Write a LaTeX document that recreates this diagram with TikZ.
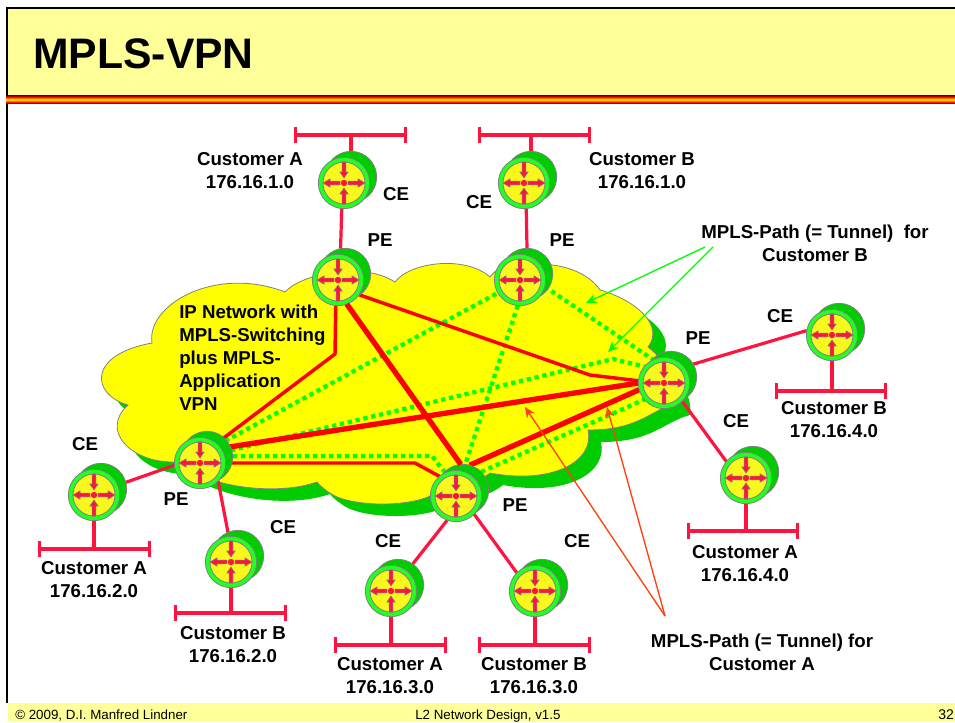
\documentclass[tikz,border=0pt]{standalone}
\usepackage{fontspec}
\setmainfont{Liberation Sans}
\usetikzlibrary{arrows.meta,backgrounds}

\definecolor{paleyellow}{HTML}{FFFF99}
\definecolor{cloudyellow}{HTML}{FFFF00}
\definecolor{cloudgreen}{HTML}{00CC00}
\definecolor{ringgreen}{HTML}{22FF22}
\definecolor{discyellow}{HTML}{F8F81C}
\definecolor{lanred}{HTML}{FF1440}
\definecolor{orangered}{HTML}{FF4010}
\definecolor{banddark}{HTML}{800000}

\pgfdeclareverticalshading{bandshade}{100bp}{color(0bp)=(banddark);color(25bp)=(banddark);color(33bp)=(red);color(42bp)=(orange);color(50bp)=(yellow);color(58bp)=(orange);color(67bp)=(red);color(75bp)=(banddark);color(100bp)=(banddark)}

\tikzset{
    routerback/.style={circle,fill=cloudgreen,draw=gray,line width=0.6pt,minimum size=38.5pt,inner sep=0pt,outer sep=0pt},
    routerfront/.style={circle,fill=ringgreen,draw=gray,line width=0.6pt,minimum size=38.5pt,inner sep=0pt,outer sep=0pt},
    lbl/.style={font=\bfseries\fontsize{14}{17.2}\selectfont,align=center,inner sep=0pt},
    lanbar/.style={lanred,line width=2.4pt,{Bar[width=12.5pt,line width=2.2pt]}-{Bar[width=12.5pt,line width=2.2pt]}},
    link/.style={lanred,line width=2.4pt},
    thinpath/.style={red,line width=2.6pt},
    thickpath/.style={red,line width=4pt},
    dotpath/.style={green,line width=3.2pt,dash pattern=on 3.2pt off 2.8pt},
    router face/.pic={
        \fill[discyellow,draw=gray,line width=0.6pt] (0,0) circle (21);
        \foreach \a in {0,180} {
            \filldraw[rotate=\a,fill=lanred,draw=gray,line width=0.4pt] (4,-1.9) -- (14,-1.9) -- (14,-4.2) -- (21,0) -- (14,4.2) -- (14,1.9) -- (4,1.9) -- cycle;
        }
        \foreach \a in {90,270} {
            \filldraw[rotate=\a,fill=lanred,draw=gray,line width=0.4pt] (21,-1.9) -- (11,-1.9) -- (11,-4.2) -- (5,0) -- (11,4.2) -- (11,1.9) -- (21,1.9) -- cycle;
        }
        \fill[lanred] (0,0) circle (3.2);
    },
}

\newcommand{\cloudpath}{
    (128,405) .. controls (92,395) and (86,355) .. (152,343)
    .. controls (146,305) and (215,265) .. (285,292)
    .. controls (300,275) and (360,260) .. (395,282)
    .. controls (410,262) and (465,255) .. (490,277)
    .. controls (500,262) and (530,258) .. (552,265)
    .. controls (570,267) and (590,275) .. (600,290)
    .. controls (635,300) and (665,325) .. (648,347)
    .. controls (665,360) and (680,385) .. (677,403)
    .. controls (650,410) and (640,430) .. (588,430)
    .. controls (595,460) and (555,485) .. (490,473)
    .. controls (475,485) and (450,490) .. (432,495)
    .. controls (410,507) and (355,507) .. (333,495)
    .. controls (325,490) and (320,486) .. (317,482)
    .. controls (280,495) and (215,490) .. (173,462)
    .. controls (130,462) and (100,430) .. (128,405)
    -- cycle
}

\begin{document}
\begin{tikzpicture}[x=0.75pt,y=-0.75pt]
    \useasboundingbox (0,0) rectangle (955,722);

    % header and footer
    \fill[paleyellow] (8,9) rectangle (955,96);
    \fill[paleyellow] (8,703) rectangle (955,722);
    \draw[black,line width=1.6pt] (7,703) -- (7,8) -- (955,8);
    \shade[shading=bandshade] (6,95.5) rectangle (955,103.5);
    \node[font=\bfseries\fontsize{32}{36}\selectfont,anchor=base west,inner sep=0pt] (title) at (33,68) {MPLS-VPN};
    \node[font=\fontsize{10}{12}\selectfont,anchor=base west,inner sep=0pt] (foot1) at (15,719) {© 2009, D.I. Manfred Lindner};
    \node[font=\fontsize{10}{12}\selectfont,anchor=base west,inner sep=0pt] (foot2) at (415,719) {L2 Network Design, v1.5};
    \node[font=\fontsize{10.5}{12}\selectfont,anchor=base west,inner sep=0pt] (foot3) at (938,719) {32};

    % routers
    \foreach \name/\px/\py in {ceA1/344/183,ceB1/524/183,ceB4/832/335,ceA4/746/478,ceA2/94/495,ceB2/231/562,ceA3/391/591,ceB3/535/591,
                               peTop/338/280,peMid/520/280,peRight/664/383,peLeft/200/463,peLow/456/496} {
        \node[routerback] (\name b) at ([shift={(7,-6)}]\px,\py) {};
        \node[routerfront] (\name) at (\px,\py) {};
        \pic at (\name) {router face};
    }

    % LAN bars
    \coordinate (lanA1l) at (294,135);
    \coordinate (lanA1r) at (407,135);
    \coordinate (lanA1) at (351,135);
    \coordinate (lanB1l) at (478,135);
    \coordinate (lanB1r) at (591,135);
    \coordinate (lanB1) at (531,135);
    \coordinate (lanB4l) at (775,391);
    \coordinate (lanB4r) at (887,391);
    \coordinate (lanB4) at (832,391);
    \coordinate (lanA4l) at (687,531);
    \coordinate (lanA4r) at (799,531);
    \coordinate (lanA4) at (746,531);
    \coordinate (lanA2l) at (38,549);
    \coordinate (lanA2r) at (151,549);
    \coordinate (lanA2) at (94,549);
    \coordinate (lanB2l) at (174,613);
    \coordinate (lanB2r) at (287,613);
    \coordinate (lanB2) at (231,613);
    \coordinate (lanA3l) at (334,645);
    \coordinate (lanA3r) at (447,645);
    \coordinate (lanA3) at (391,645);
    \coordinate (lanB3l) at (478,645);
    \coordinate (lanB3r) at (591,645);
    \coordinate (lanB3) at (535,645);

    % route bends
    \coordinate (bendTopLeft) at (335,354);
    \coordinate (bendTopRight) at (590,375);
    \coordinate (bendLeftLow) at (415,463);
    \coordinate (dotMidRight) at (613,359);
    \coordinate (dotLeftLow) at (432,456);

    \begin{scope}[on background layer]
        \fill[cloudgreen,shift={(13,12)}] \cloudpath;
        \filldraw[cloudyellow,draw=gray,line width=0.6pt] \cloudpath;

        \foreach \a/\b in {lanA1/ceA1b,lanB1/ceB1b,lanB4/ceB4,lanA4/ceA4,lanA2/ceA2,lanB2/ceB2,lanA3/ceA3,lanB3/ceB3} {
            \draw[link] (\a) -- (\b);
        }
        \draw[link] (ceA1.265) -- (peTopb.100);
        \draw[link] (ceB1.-85) -- (peMidb.north);
        \draw[link] (peRightb.30) -- (ceB4.170);
        \draw[link] (peRight.-45) -- (ceA4.140);
        \draw[link] (peLeft.185) -- (ceA2b.15);
        \draw[link] (peLeft.-45) -- (ceB2.95);
        \draw[link] (peLow.-110) -- (ceA3b.55);
        \draw[link] (peLow.-45) -- (ceB3.135);

        \draw[lanbar] (lanA1l) -- (lanA1r);
        \draw[lanbar] (lanB1l) -- (lanB1r);
        \draw[lanbar] (lanB4l) -- (lanB4r);
        \draw[lanbar] (lanA4l) -- (lanA4r);
        \draw[lanbar] (lanA2l) -- (lanA2r);
        \draw[lanbar] (lanB2l) -- (lanB2r);
        \draw[lanbar] (lanA3l) -- (lanA3r);
        \draw[lanbar] (lanB3l) -- (lanB3r);

        \draw[dotpath] (peLeft.45) -- (peMid.210);
        \draw[dotpath] (peLeft.25) -- (dotMidRight) -- (peRight.140);
        \draw[dotpath] (peLeft.15) -- (dotLeftLow) -- (peLow.115);
        \draw[dotpath] (peMid.-15) -- (peRight.115);
        \draw[dotpath] (peMid.265) -- (peLowb.85);
        \draw[dotpath] (peLowb.45) -- (peRight.220);

        \draw[thinpath] (peTop.265) -- (bendTopLeft) -- (peLeft.50);
        \draw[thinpath] (peTop.-35) -- (bendTopRight) -- (peRight.175);
        \draw[thinpath] (peLeft.east) -- (bendLeftLow) -- (peLow.130);
        \draw[thickpath] (peLeft.35) -- (peRight.180);
        \draw[thickpath] (peLowb.75) -- (peRight.195);
    \end{scope}
    \draw[thickpath] (peTop.290) -- (peLowb.95);

    % labels
    \node[lbl] (custA1) at (250,171) {Customer A\\176.16.1.0};
    \node[lbl] (custB1) at (642,171) {Customer B\\176.16.1.0};
    \node[lbl] (custB4) at (834,420) {Customer B\\176.16.4.0};
    \node[lbl] (custA4) at (745,564) {Customer A\\176.16.4.0};
    \node[lbl] (custA2) at (94,580) {Customer A\\176.16.2.0};
    \node[lbl] (custB2) at (233,645) {Customer B\\176.16.2.0};
    \node[lbl] (custA3) at (390,676) {Customer A\\176.16.3.0};
    \node[lbl] (custB3) at (534,676) {Customer B\\176.16.3.0};

    \node[lbl] (txtCe1) at (396,194) {CE};
    \node[lbl] (txtCe2) at (479,202) {CE};
    \node[lbl] (txtCe3) at (780,316) {CE};
    \node[lbl] (txtCe4) at (736,421) {CE};
    \node[lbl] (txtCe5) at (85,444) {CE};
    \node[lbl] (txtCe6) at (283,527) {CE};
    \node[lbl] (txtCe7) at (388,541) {CE};
    \node[lbl] (txtCe8) at (577,541) {CE};

    \node[lbl] (txtPe1) at (380,240) {PE};
    \node[lbl] (txtPe2) at (562,240) {PE};
    \node[lbl] (txtPe3) at (698,338) {PE};
    \node[lbl] (txtPe4) at (176,499) {PE};
    \node[lbl] (txtPe5) at (515,505) {PE};

    \node[lbl,align=left,anchor=north west] (txtCloud) at (179,305) {IP Network with\\MPLS-Switching\\plus MPLS-\\Application\\VPN};
    \node[lbl] (txtPathB) at (815,243) {MPLS-Path (= Tunnel)\ \ for\\Customer B};
    \node[lbl] (txtPathA) at (762,652) {MPLS-Path (= Tunnel) for\\Customer A};

    % pointer arrows
    \coordinate (pathB1) at (705,247);
    \coordinate (pathB2) at (713,247);
    \coordinate (tipB1) at (586,303);
    \coordinate (tipB2) at (608,352);
    \coordinate (pathA) at (665,616);
    \coordinate (tipA1) at (525,407);
    \coordinate (tipA2) at (607,407);
    \draw[green,line width=1pt,-{Stealth[length=8pt,width=7pt]}] (pathB1) -- (tipB1);
    \draw[green,line width=1pt,-{Stealth[length=8pt,width=7pt]}] (pathB2) -- (tipB2);
    \draw[orangered,line width=1pt,-{Stealth[length=8pt,width=7pt]}] (pathA) -- (tipA1);
    \draw[orangered,line width=1pt,-{Stealth[length=8pt,width=7pt]}] (pathA) -- (tipA2);
\end{tikzpicture}
\end{document}
